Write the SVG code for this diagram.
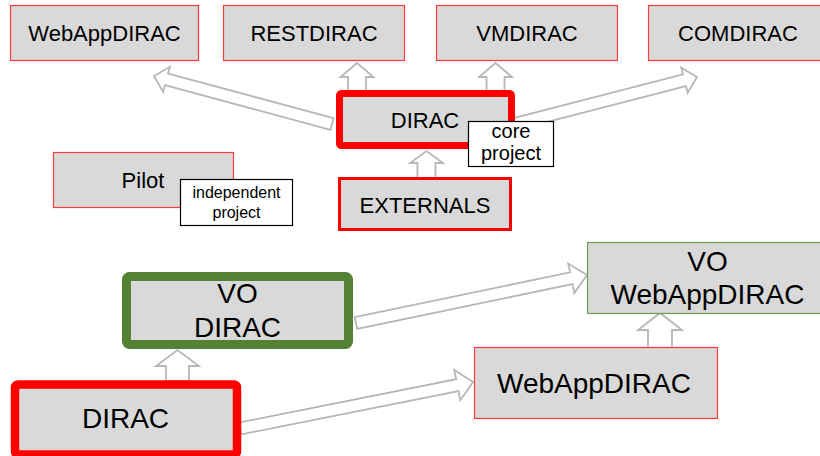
<svg xmlns="http://www.w3.org/2000/svg" width="820" height="456" viewBox="0 0 820 456">
<style>
.box{fill:#d9d9d9;stroke:#ff3b3b;stroke-width:1.2}
.thick{fill:#d9d9d9;stroke:#ff0000}
.green{fill:#d9d9d9;stroke:#548235}
.gthin{fill:#d9d9d9;stroke:#6f9a55;stroke-width:1.2}
.note{fill:#ffffff;stroke:#000000;stroke-width:1.2}
.arr{fill:#ffffff;stroke:#b7b7b7;stroke-width:1.8;stroke-linejoin:miter}
text{font-family:"Liberation Sans",Arial,sans-serif;fill:#000;text-anchor:middle}
.t22{font-size:22px}
.t28{font-size:28px}
.t20{font-size:20px}
.t16{font-size:16px}
</style>
<g id="connectors">
  <polygon class="arr" transform="translate(332,124) rotate(195.1)" points="0,-6 171.4,-6 171.4,-13 184.4,0 171.4,13 171.4,6 0,6"/>
  <polygon class="arr" transform="translate(515,124) rotate(-14.48)" points="0,-6 175,-6 175,-13 188,0 175,13 175,6 0,6"/>
  <polygon class="arr" points="348,92 348,77 340.5,77 357,63 373.5,77 366,77 366,92"/>
  <polygon class="arr" points="486.5,92 486.5,77 479,77 495.5,63 512,77 504.5,77 504.5,92"/>
  <polygon class="arr" points="417.5,178 417.5,163 410,163 426.5,151 443,163 435.5,163 435.5,178"/>
  <polygon class="arr" points="166,381 166,366 156,366 177.5,350 199,366 189,366 189,381"/>
  <polygon class="arr" points="648,348 648,330 638,330 660,313 682,330 672,330 672,348"/>
  <polygon class="arr" transform="translate(356,323) rotate(-11.74)" points="0,-6 219.9,-6 219.9,-15 235.9,0 219.9,15 219.9,6 0,6"/>
  <polygon class="arr" transform="translate(240,428.5) rotate(-11.29)" points="0,-6 221.6,-6 221.6,-15.5 237.6,0 221.6,15.5 221.6,6 0,6"/>
</g>
<g id="webappdirac-top">
  <rect class="box" x="10.5" y="5.5" width="188" height="55"/>
  <text class="t22" x="104.5" y="41">WebAppDIRAC</text>
</g>
<g id="restdirac">
  <rect class="box" x="223.5" y="5.5" width="181" height="55"/>
  <text class="t22" x="314" y="41">RESTDIRAC</text>
</g>
<g id="vmdirac">
  <rect class="box" x="436.5" y="5.5" width="181" height="55"/>
  <text class="t22" x="527" y="41">VMDIRAC</text>
</g>
<g id="comdirac">
  <rect class="box" x="648.5" y="5.5" width="181" height="55"/>
  <text class="t22" x="738" y="41">COMDIRAC</text>
</g>
<g id="dirac-core">
  <rect class="thick" x="339.5" y="93.5" width="172" height="52" rx="2" stroke-width="7"/>
  <text class="t22" x="425" y="128">DIRAC</text>
</g>
<g id="externals">
  <rect class="thick" x="339.5" y="178.5" width="171" height="51" stroke-width="3"/>
  <text class="t22" x="425" y="213">EXTERNALS</text>
</g>
<g id="pilot">
  <rect class="box" x="53.5" y="152.5" width="180" height="55"/>
  <text class="t22" x="143" y="188">Pilot</text>
</g>
<g id="note-core">
  <rect class="note" x="468.5" y="121.5" width="85" height="45"/>
  <text class="t20" x="511" y="138">core</text>
  <text class="t20" x="511" y="160">project</text>
</g>
<g id="note-independent">
  <rect class="note" x="180.5" y="179.5" width="112" height="46"/>
  <text class="t16" x="236.5" y="198">independent</text>
  <text class="t16" x="236.5" y="218">project</text>
</g>
<g id="vo-dirac">
  <rect class="green" x="126.5" y="276.5" width="222" height="68" rx="3" stroke-width="9"/>
  <text class="t28" x="237.5" y="303">VO</text>
  <text class="t28" x="237.5" y="337">DIRAC</text>
</g>
<g id="dirac-bottom">
  <rect class="thick" x="15" y="384.5" width="222" height="70" rx="3" stroke-width="8.5"/>
  <text class="t28" x="125.5" y="428">DIRAC</text>
</g>
<g id="vo-webappdirac">
  <rect class="gthin" x="587.5" y="242.5" width="240" height="71"/>
  <text class="t28" x="707.5" y="271">VO</text>
  <text class="t28" x="707.5" y="304">WebAppDIRAC</text>
</g>
<g id="webappdirac-bottom">
  <rect class="box" x="474.5" y="347.5" width="243" height="71"/>
  <text class="t28" x="594" y="393">WebAppDIRAC</text>
</g>
</svg>
